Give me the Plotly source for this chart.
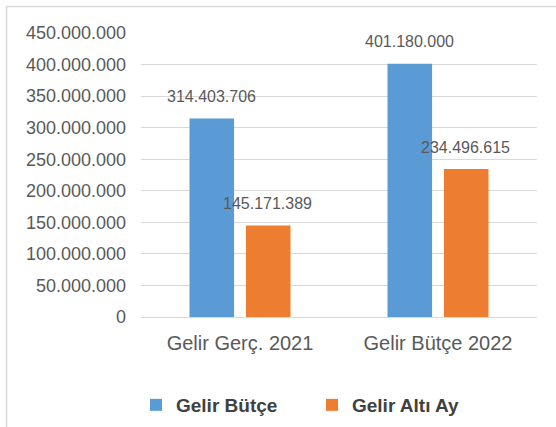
import plotly.graph_objects as go

categories = ["Gelir Gerç. 2021", "Gelir Bütçe 2022"]
series_names = ["Gelir Bütçe", "Gelir Altı Ay"]
gelir_butce = [314403706, 401180000]
gelir_alti_ay = [145171389, 234496615]
tick_vals = [0, 50e6, 100e6, 150e6, 200e6, 250e6, 300e6, 350e6, 400e6, 450e6]
tick_text = ["0", "50.000.000", "100.000.000", "150.000.000", "200.000.000",
             "250.000.000", "300.000.000", "350.000.000", "400.000.000", "450.000.000"]

colors = ["#5B9BD5", "#ED7D31"]
FONT = "Liberation Sans"
GRAY = "#595959"

def fmt(v):
    return f"{int(v):,}".replace(",", ".")

fig = go.Figure()
for name, vals, col in zip(series_names, [gelir_butce, gelir_alti_ay], colors):
    fig.add_trace(go.Bar(name=name, x=categories, y=vals, marker_color=col,
                         marker_line_width=0))

W, H = 556, 427
L, R, T, B = 141, 19, 33, 110
pw, ph = W - L - R, H - T - B

def px_x(p):
    return (p - L) / pw

def px_y(p):
    return (H - B - p) / ph

annotations = []
for vals, shift in [(gelir_butce, -29), (gelir_alti_ay, 27)]:
    for c, v in zip(categories, vals):
        annotations.append(dict(x=c, y=v, text=fmt(v), showarrow=False,
                                xshift=shift, yshift=22,
                                font=dict(family=FONT, size=16, color=GRAY)))

fig.update_layout(
    width=W, height=H,
    margin=dict(l=L, r=R, t=T, b=B, autoexpand=False),
    paper_bgcolor="white", plot_bgcolor="white",
    barmode="group", bargap=0.43, bargroupgap=0.21,
    font=dict(family=FONT, color=GRAY),
    xaxis=dict(tickfont=dict(size=20, color=GRAY), showgrid=False,
               showline=False, ticks="", ticklabelstandoff=12, automargin=False),
    yaxis=dict(range=[0, 450e6], tickvals=tick_vals, ticktext=tick_text,
               tickfont=dict(size=18, color=GRAY), showgrid=True,
               gridcolor="#D9D9D9", gridwidth=1, zeroline=True,
               zerolinecolor="#D9D9D9", zerolinewidth=1, showline=False,
               ticks="", ticklabelstandoff=14, automargin=False),
    legend=dict(orientation="h", x=px_x(312), xanchor="center",
                y=px_y(405), yanchor="middle",
                font=dict(family=FONT, size=19, color="#404040", weight="bold"),
                entrywidth=131, itemwidth=30, bgcolor="rgba(0,0,0,0)"),
    annotations=annotations,
    shapes=[
        dict(type="line", xref="paper", yref="paper", x0=px_x(6), x1=px_x(556),
             y0=px_y(6.5), y1=px_y(6.5), line=dict(color="#D9D9D9", width=1.5)),
        dict(type="line", xref="paper", yref="paper", x0=px_x(6.5), x1=px_x(6.5),
             y0=px_y(6), y1=px_y(427), line=dict(color="#D9D9D9", width=1.5)),
    ],
    showlegend=True,
)

fig.write_html("out.html", config={"displayModeBar": False},
               post_script="document.body.style.margin='0';document.body.style.overflow='hidden';")
